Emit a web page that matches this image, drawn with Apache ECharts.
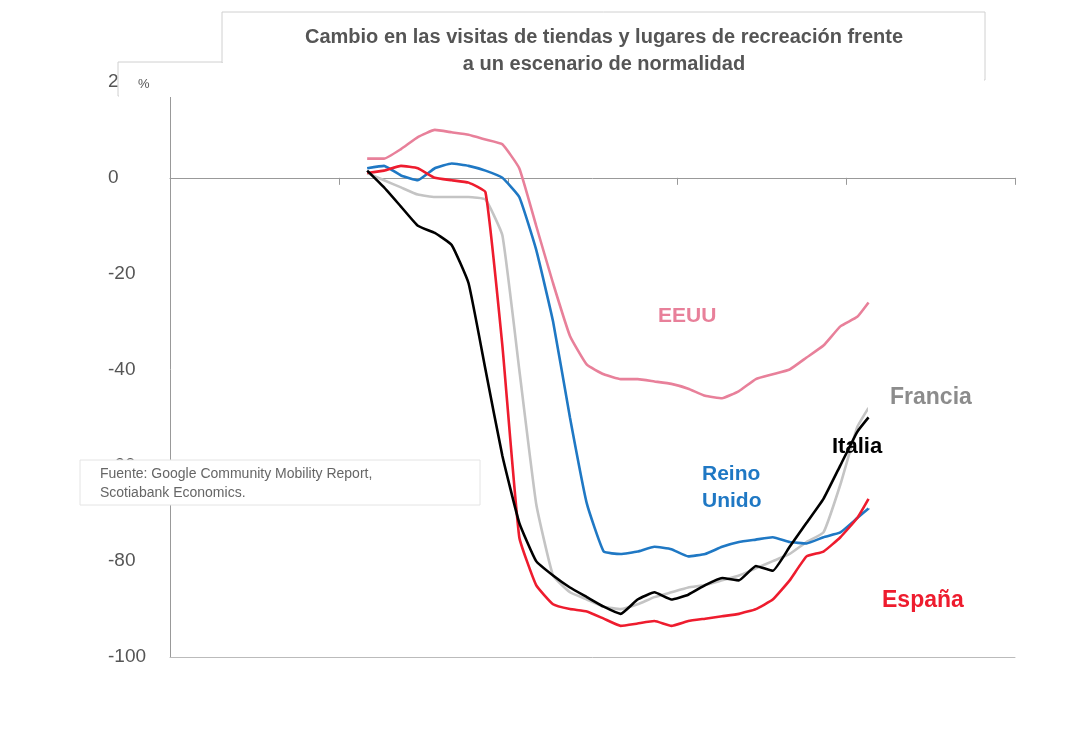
<!DOCTYPE html>
<html>
<head>
<meta charset="utf-8">
<script src="https://cdn.jsdelivr.net/npm/echarts@6/dist/echarts.min.js"></script>
<style>html,body{margin:0;padding:0;background:#fff}#chart{width:1080px;height:730px}</style>
</head>
<body>
<div id="chart"></div>
<script>
// days since start of year (axis 0..150, no labels shown)
var days = [35,38,41,44,47,50,53,56,59,62,65,68,71,74,77,80,83,86,89,92,95,98,101,104,107,110,113,116,119,122,124];

var eeuu   = [4,4,6,8.5,10,9.5,9,8,7,2,-10,-22,-33,-39,-41,-42,-42,-42.5,-43,-44,-45.5,-46,-44.5,-42,-41,-40,-37.5,-35,-31,-29,-26];
var reino  = [2,2.5,0.5,-0.5,2,3,2.5,1.5,0,-4,-15,-30,-50,-68,-78,-78.5,-78,-77,-77.5,-79,-78.5,-77,-76,-75.5,-75,-76,-76.3,-75,-74,-71,-69];
var espana = [1,1.5,2.5,2,0,-0.5,-1,-3,-35,-75,-85,-89,-90,-90.5,-92,-93.5,-93,-92.5,-93.5,-92.5,-92,-91.5,-91,-90,-88,-84,-79,-78,-75,-71,-67];
var italia = [1.5,-2,-6,-10,-11.5,-14,-22,-40,-58,-72,-80,-83,-85.5,-87.5,-89.5,-91,-88,-86.5,-88,-87,-85,-83.5,-84,-81,-82,-77,-72,-67,-60,-53,-50];
var francia= [1,-0.5,-2,-3.5,-4,-4,-4,-4.5,-12,-40,-68,-83,-86.5,-88,-89.5,-90,-89,-87.5,-86.5,-85.5,-85,-84,-83,-81.5,-80,-78.5,-76,-74,-64,-52,-48];

var yTicks = [-100,-80,-60,-40,-20,0,20];

function pairs(v) { return days.map(function (d, i) { return [d, v[i]]; }); }
function line(name, v, color) {
  return { name: name, type: 'line', data: pairs(v), showSymbol: false, smooth: 0.12,
    lineStyle: { color: color, width: 2.6 }, itemStyle: { color: color }, z: 2 };
}

var chart = echarts.init(document.getElementById('chart'));
chart.setOption({
  animation: false,
  grid: { left: 170, right: 65, top: 82, bottom: 73 },
  xAxis: [
    { type: 'value', min: 0, max: 150, interval: 30,
      axisLine: { onZero: true, lineStyle: { color: '#999' } },
      axisTick: { show: true, length: 7, inside: false, lineStyle: { color: '#999' } },
      axisLabel: { show: false }, splitLine: { show: false } },
    { type: 'value', min: 0, max: 150, position: 'bottom',
      axisLine: { onZero: false, lineStyle: { color: '#bbb' } },
      axisTick: { show: false }, axisLabel: { show: false }, splitLine: { show: false } }
  ],
  yAxis: {
    type: 'value', min: yTicks[0], max: yTicks[yTicks.length - 1], interval: 20,
    axisLine: { show: true, lineStyle: { color: '#999' } },
    axisTick: { show: false },
    axisLabel: { color: '#555', fontSize: 19, fontFamily: 'Liberation Sans', margin: 62, align: 'left' },
    splitLine: { show: false }
  },
  series: [
    line('Francia', francia, '#c4c4c4'),
    line('EEUU', eeuu, '#e8809a'),
    line('Reino Unido', reino, '#1f78c4'),
    line('España', espana, '#ee1c2e'),
    line('Italia', italia, '#000000')
  ],
  graphic: [
    { type: 'rect', z: 100, shape: { x: 222, y: 12, width: 763, height: 68 },
      style: { fill: '#fff', stroke: '#d0d0d0', lineWidth: 1 } },
    { type: 'rect', z: 101, shape: { x: 223, y: 70, width: 761, height: 12 }, style: { fill: '#fff' } },
    { type: 'rect', z: 100, shape: { x: 118, y: 62, width: 104, height: 34 },
      style: { fill: '#fff', stroke: '#d0d0d0', lineWidth: 1 } },
    { type: 'rect', z: 101, shape: { x: 119, y: 63, width: 106, height: 34 }, style: { fill: '#fff' } },
    { type: 'text', z: 102, style: { x: 604, y: 24, text: 'Cambio en las visitas de tiendas y lugares de recreación frente\na un escenario de normalidad',
      textAlign: 'center', fill: '#555', font: 'bold 20px "Liberation Sans"', lineHeight: 27 } },
    { type: 'text', z: 102, style: { x: 138, y: 78, text: '%', fill: '#555', font: '13px "Liberation Sans"' } },
    { type: 'rect', z: 100, shape: { x: 80, y: 460, width: 400, height: 45 },
      style: { fill: '#fff', stroke: '#e4e4e4', lineWidth: 1 } },
    { type: 'text', z: 102, style: { x: 100, y: 465, text: 'Fuente: Google Community Mobility Report,\nScotiabank Economics.',
      fill: '#666', font: '14px "Liberation Sans"', lineHeight: 19 } },
    { type: 'rect', z: 100, shape: { x: 868, y: 378, width: 150, height: 38 }, style: { fill: '#fff' } },
    { type: 'text', z: 102, style: { x: 890, y: 386, text: 'Francia', fill: '#8c8c8c', font: 'bold 23px "Liberation Sans"' } },
    { type: 'text', z: 102, style: { x: 658, y: 306, text: 'EEUU', fill: '#e8809a', font: 'bold 21px "Liberation Sans"' } },
    { type: 'text', z: 102, style: { x: 702, y: 461, text: 'Reino\nUnido', fill: '#1f78c4', font: 'bold 21px "Liberation Sans"', lineHeight: 27 } },
    { type: 'text', z: 102, style: { x: 832, y: 436, text: 'Italia', fill: '#000', font: 'bold 22px "Liberation Sans"' } },
    { type: 'text', z: 102, style: { x: 882, y: 589, text: 'España', fill: '#ee1c2e', font: 'bold 23px "Liberation Sans"' } }
  ]
});
</script>
</body>
</html>
